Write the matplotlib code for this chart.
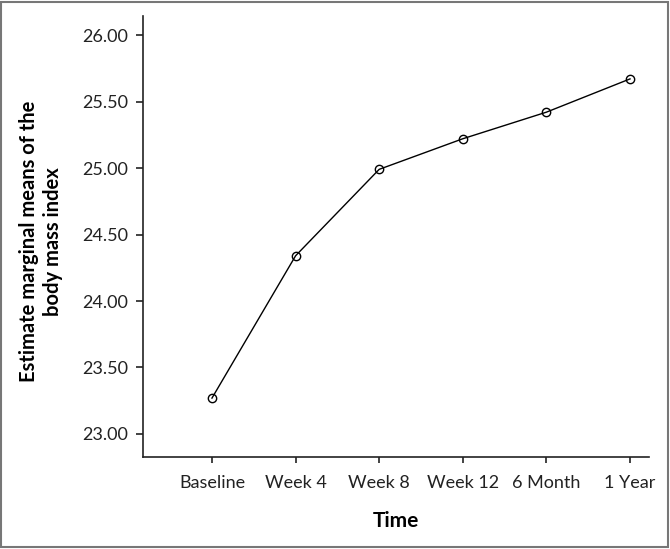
import matplotlib
matplotlib.use("Agg")
import matplotlib.pyplot as plt
from matplotlib.patches import Rectangle

time_labels = ["Baseline", "Week 4", "Week 8", "Week 12", "6 Month", "1 Year"]
bmi_means = [23.27, 24.34, 24.99, 25.22, 25.42, 25.67]
y_ticks = [23.0, 23.5, 24.0, 24.5, 25.0, 25.5, 26.0]

plt.rcParams['font.family'] = ['Lato', 'DejaVu Sans']

fig = plt.figure(figsize=(6.70, 5.49), dpi=100)
ax = fig.add_axes([143/670, 1 - 457/549, (649 - 143)/670, (457 - 16)/549])

x_pos = list(range(len(time_labels)))
ax.plot(x_pos, bmi_means, color='black', linewidth=1.0,
        marker='o', markersize=6, markerfacecolor='none',
        markeredgecolor='black', markeredgewidth=1.0)

ax.set_xlim(-0.825, 5.227)
ax.set_ylim(22.827, 26.143)
ax.set_xticks(x_pos)
ax.set_xticklabels(time_labels)
ax.set_yticks(y_ticks)
ax.set_yticklabels(["%.2f" % v for v in y_ticks])

for side in ['top', 'right']:
    ax.spines[side].set_visible(False)
for side in ['left', 'bottom']:
    ax.spines[side].set_color('#222222')
    ax.spines[side].set_linewidth(1.2)

ax.tick_params(axis='x', length=4.3, width=1.2, color='#222222',
               labelsize=13, labelcolor='#222222', pad=9)
ax.tick_params(axis='y', length=5, width=1.2, color='#222222',
               labelsize=13, labelcolor='#222222', pad=5.5)

ax.set_xlabel("Time", fontsize=15, fontweight='bold', labelpad=14)
ax.set_ylabel("Estimate marginal means of the\nbody mass index",
              fontsize=14.5, fontweight='bold', linespacing=1.25)
ax.yaxis.set_label_coords(-0.159, 0.488)

fig.patches.append(Rectangle((0.002, 0.003), 0.995, 0.994, transform=fig.transFigure,
                             fill=False, edgecolor='#777777', linewidth=1.5))

fig.savefig("out.png", dpi=100)
